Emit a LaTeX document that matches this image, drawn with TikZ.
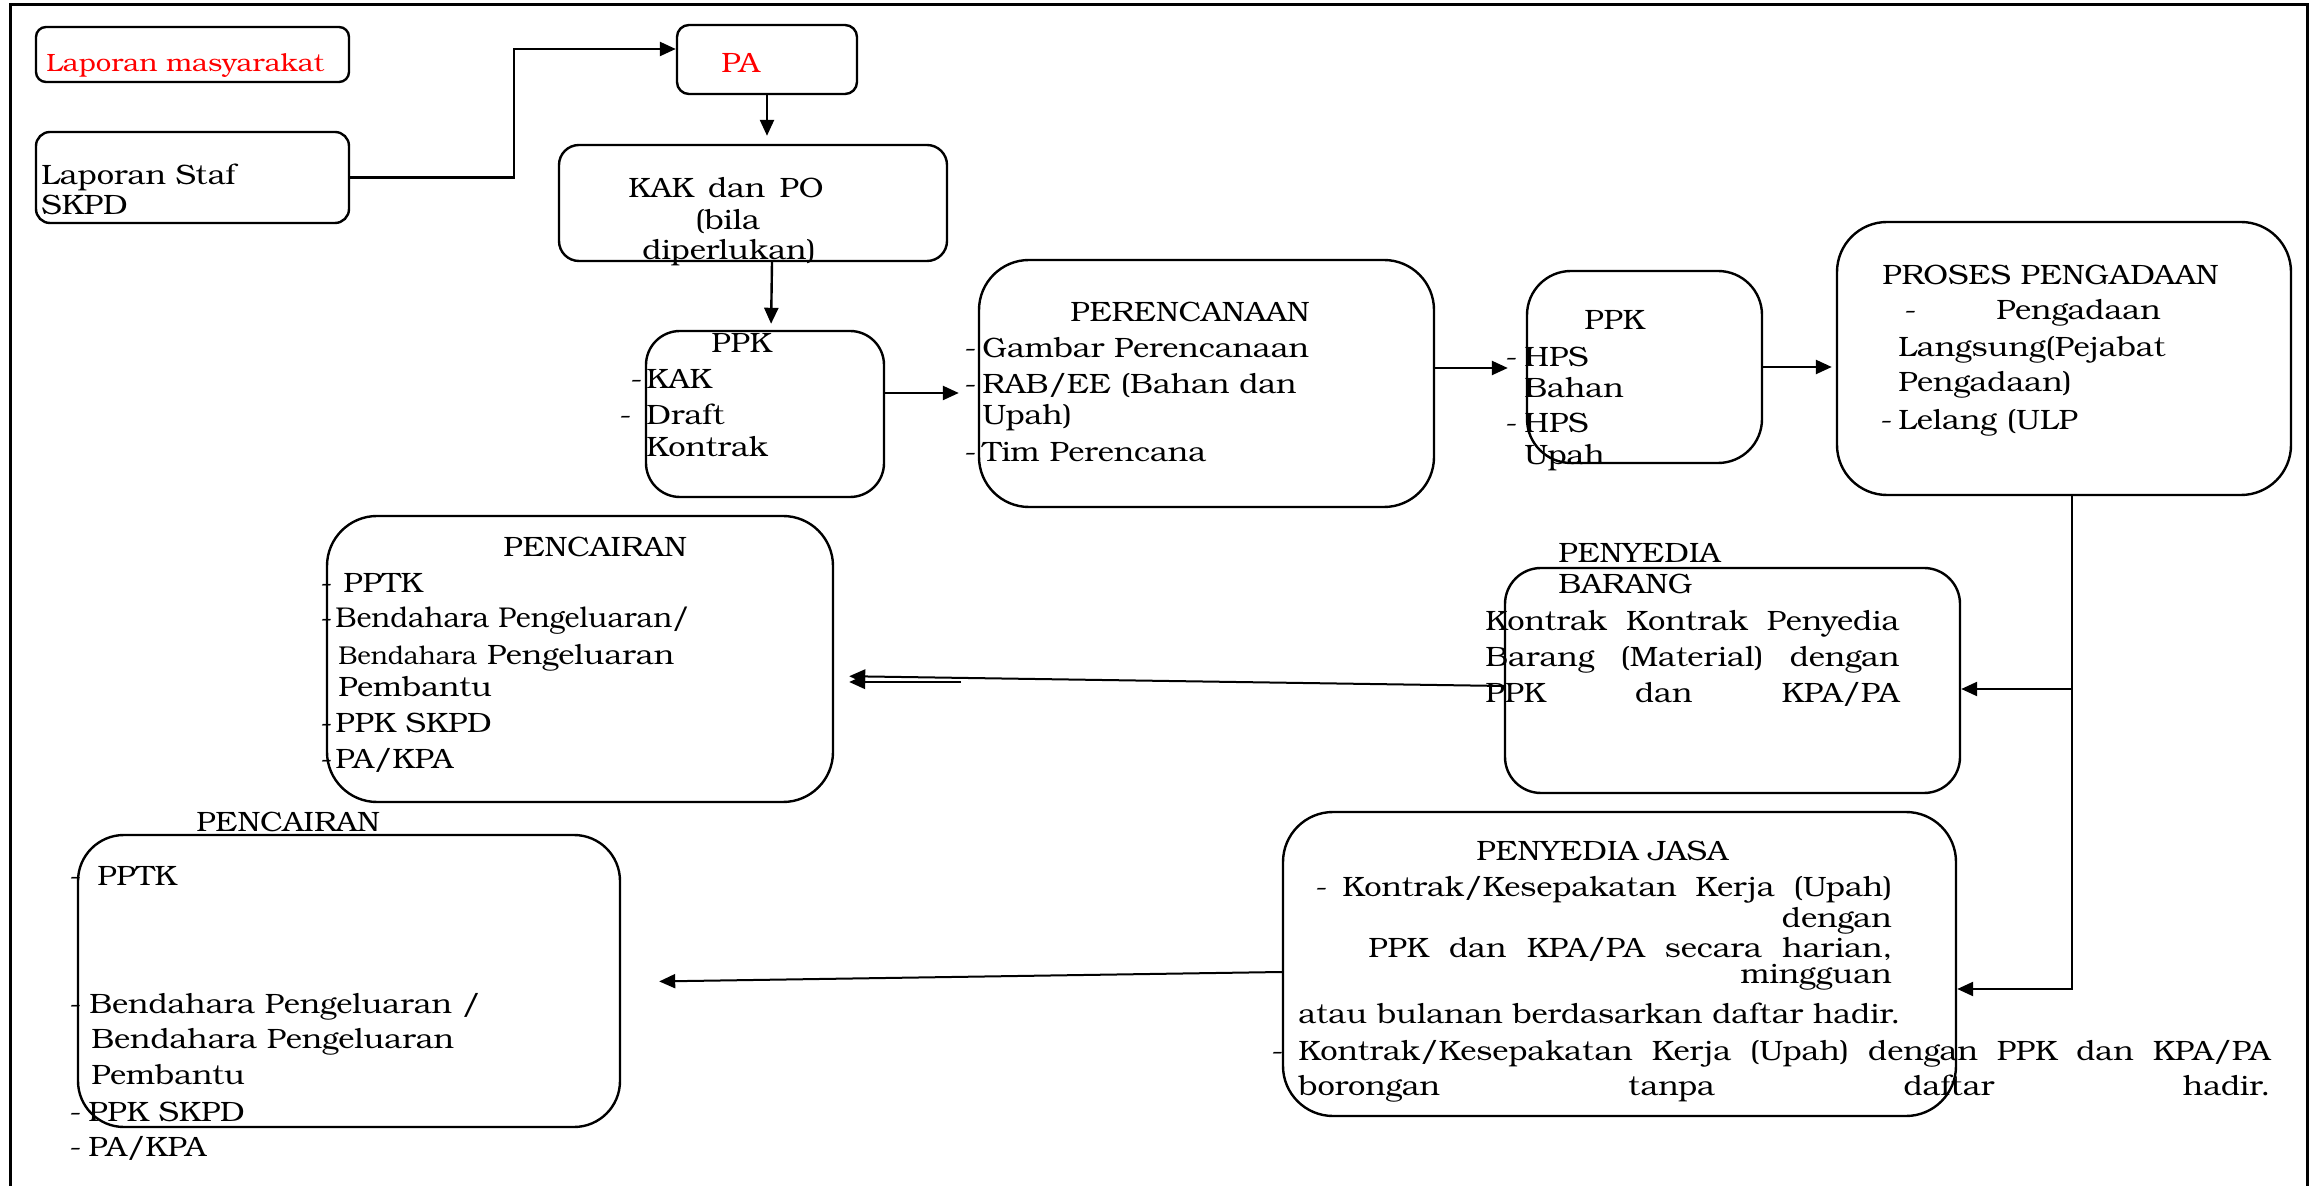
\documentclass[tikz,border=0pt]{standalone}
\usepackage{fontspec}
\setmainfont[FakeStretch=1.1]{TeX Gyre Bonum}
\newfontfamily\pbk{TeX Gyre Bonum}
\usetikzlibrary{arrows.meta}
\newcommand\fs{\fontsize{14}{16}\selectfont}
\newcommand\fsr{\fontsize{12.5}{14}\selectfont}
\newcommand\fsb{\pbk\fontsize{12.9}{14}\selectfont}
\newcommand\fsp{\pbk\fontsize{14.3}{16}\selectfont}
\newcommand\mkbox[6]{\node[box, rounded corners=#6, minimum width={(#4-#2)*0.5pt}, minimum height={(#5-#3)*0.5pt}] (#1) at ({(#2+#4)/2},{(#3+#5)/2}) {};}
\begin{document}
\begin{tikzpicture}[x=0.5pt,y=-0.5pt,
  box/.style={draw, line width=1.2pt, inner sep=0pt, rectangle},
  arr/.style={-{Triangle[length=8pt,width=7pt]}, line width=1.2pt},
  t/.style={anchor=base west, inner sep=0pt, font=\fs},
  tr/.style={anchor=base east, inner sep=0pt, font=\fs}]
\useasboundingbox (0,0) rectangle (2324,1186);
% frame
\draw[line width=1.5pt] (10,1250) -- (10,5) -- (2307,5) -- (2307,1250);
% boxes
\mkbox{lm}{36}{27}{349}{82}{5pt}
\mkbox{pa}{677}{25}{857}{94}{6pt}
\mkbox{staf}{36}{132}{349}{223}{7pt}
\mkbox{kak}{559}{145}{947}{261}{10pt}
\mkbox{ppka}{646}{331}{884}{497}{17pt}
\mkbox{per}{979}{260}{1434}{507}{25pt}
\mkbox{ppkb}{1527}{271}{1762}{463}{22pt}
\mkbox{proses}{1837}{222}{2291}{495}{25pt}
\mkbox{pca}{327}{516}{833}{802}{25pt}
\mkbox{barang}{1505}{568}{1960}{793}{18pt}
\mkbox{jasa}{1283}{812}{1956}{1116}{25pt}
\mkbox{pcb}{78}{835}{620}{1127}{23pt}
% texts
\node[t,font=\fsr,text=red] (x1) at (46,72) {Laporan masyarakat};
\node[t,text=red] (x2) at (721,73) {PA};
\node[t] (x3) at (41,185) {Laporan Staf};
\node[t] (x4) at (41,215) {SKPD};
\node[t] (x5) at (628,198) {\hbox to 97.5pt{KAK\hfill dan\hfill PO}};
\node[t] (x6) at (695,230) {(bila};
\node[t] (x7) at (642,260) {diperlukan)};
% PPK 1
\node[t] (x8) at (711,353) {PPK};
\node[t] (x9) at (630,389) {-};
\node[t] (x10) at (646,389) {KAK};
\node[t] (x11) at (619,425) {-};
\node[t] (x12) at (646,425) {Draft};
\node[t] (x13) at (646,457) {Kontrak};
% PERENCANAAN
\node[t] (x14) at (1070,322) {PERENCANAAN};
\node[t] (x15) at (964,358) {-};
\node[t] (x16) at (982,358) {Gambar Perencanaan};
\node[t] (x17) at (964,394) {-};
\node[t] (x18) at (982,394) {RAB/EE (Bahan dan};
\node[t] (x19) at (982,425) {Upah)};
\node[t] (x20) at (964,462) {-};
\node[t] (x21) at (982,462) {Tim Perencana};
% PPK 2
\node[t] (x22) at (1584,330) {PPK};
\node[t] (x23) at (1505,367) {-};
\node[t] (x24) at (1524,367) {HPS};
\node[t] (x25) at (1524,398) {Bahan};
\node[t] (x26) at (1505,433) {-};
\node[t] (x27) at (1524,433) {HPS};
\node[t] (x28) at (1524,465) {Upah};
% PROSES
\node[t] (x29) at (1882,285) {PROSES PENGADAAN};
\node[t] (x30) at (1904,320) {-};
\node[t] (x31) at (1996,320) {Pengadaan};
\node[t] (x32) at (1898,357) {Langsung(Pejabat};
\node[t] (x33) at (1898,392) {Pengadaan)};
\node[t] (x34) at (1880,430) {-};
\node[t] (x35) at (1898,430) {Lelang (ULP};
% PENYEDIA BARANG
\node[t] (x36) at (1558,563) {PENYEDIA};
\node[t] (x37) at (1558,594) {BARANG};
\node[t] (x38) at (1485,631) {\hbox to 207pt{Kontrak\hfill Kontrak\hfill Penyedia}};
\node[t] (x39) at (1485,667) {\hbox to 207pt{Barang\hfill (Material)\hfill dengan}};
\node[t] (x40) at (1485,703) {\hbox to 207pt{PPK\hfill dan\hfill KPA/PA}};
% PENCAIRAN 1
\node[t] (x41) at (503,557) {PENCAIRAN};
\node[t] (x42) at (320,593) {-};
\node[t] (x43) at (343,593) {PPTK};
\node[t] (x44) at (320,628) {-};
\node[t,font=\fsp] (x45) at (335,628) {Bendahara Pengeluaran/};
\node[t] (x46) at (338,665) {{\fsb Bendahara} Pengeluaran};
\node[t] (x47) at (338,697) {Pembantu};
\node[t] (x48) at (320,733) {-};
\node[t] (x49) at (335,733) {PPK SKPD};
\node[t] (x50) at (320,769) {-};
\node[t] (x51) at (335,769) {PA/KPA};
% PENYEDIA JASA
\node[t] (x52) at (1476,861) {PENYEDIA JASA};
\node[t] (x53) at (1315,896) {-};
\node[t] (x54) at (1342,896) {\hbox to 275pt{Kontrak/Kesepakatan\hfill Kerja\hfill (Upah)}};
\node[tr] (x55) at (1892,927) {dengan};
\node[t] (x56) at (1368,957) {\hbox to 262pt{PPK\hfill dan\hfill KPA/PA\hfill secara\hfill harian,}};
\node[tr] (x57) at (1892,983) {mingguan};
\node[t] (x58) at (1298,1023) {atau bulanan berdasarkan daftar hadir.};
\node[t] (x59) at (1271,1060) {-};
\node[t] (x60) at (1298,1060) {\hbox to 486pt{Kontrak/Kesepakatan\hfill Kerja\hfill (Upah)\hfill dengan\hfill PPK\hfill dan\hfill KPA/PA}};
\node[t] (x61) at (1298,1095) {\hbox to 486pt{borongan\hfill tanpa\hfill daftar\hfill hadir.}};
% PENCAIRAN 2
\node[t] (x62) at (196,832) {PENCAIRAN};
\node[t] (x63) at (69,885) {-};
\node[t] (x64) at (97,885) {PPTK};
\node[t] (x65) at (69,1013) {-};
\node[t] (x66) at (89,1013) {Bendahara Pengeluaran /};
\node[t] (x67) at (91,1048) {Bendahara Pengeluaran};
\node[t] (x68) at (91,1084) {Pembantu};
\node[t] (x69) at (69,1121) {-};
\node[t] (x70) at (88,1121) {PPK SKPD};
\node[t] (x71) at (69,1156) {-};
\node[t] (x72) at (88,1156) {PA/KPA};
% connectors
\draw[arr] (staf.east) -- ++(164,0) |- ([yshift=5.25pt]pa.west);
\draw[arr, shorten >=4pt] (pa.south) -- (pa.south |- kak.north);
\draw[arr, shorten >=3pt] ([xshift=9.5pt]kak.south) -- ([xshift=3pt]ppka.north);
\draw[arr, shorten >=9.5pt] ([yshift=10.5pt]ppka.east) -- ([yshift=10.5pt]ppka.east -| per.west);
\draw[arr, shorten >=9pt] ([yshift=7.75pt]per.east) -- ([yshift=7.75pt]per.east -| ppkb.west);
\draw[arr, shorten >=2pt] (ppkb.east) -- (ppkb.east -| proses.west);
\draw[arr] ([xshift=4pt]proses.south) |- ([yshift=-4.25pt]barang.east);
\draw[arr] ([xshift=4pt]proses.south) |- ([yshift=-12.5pt]jasa.east);
\draw[arr, line width=1pt, shorten >=7.5pt] ([yshift=-2.75pt]barang.west) -- ([yshift=-8.5pt]pca.east);
\draw[arr, line width=1pt, shorten >=7.5pt] ([xshift=63.5pt,yshift=-11.5pt]pca.east) -- ([yshift=-11.5pt]pca.east);
\draw[arr, line width=1pt, shorten >=19pt] ([yshift=-4pt]jasa.west) -- ([yshift=-0.5pt]pcb.east);
\end{tikzpicture}
\end{document}
